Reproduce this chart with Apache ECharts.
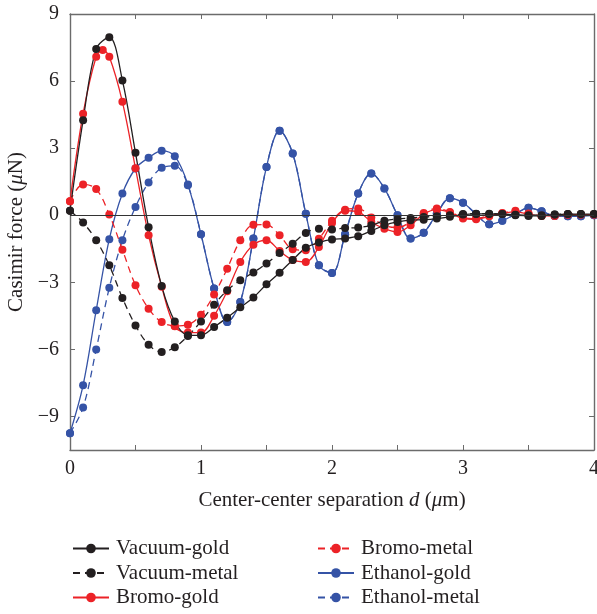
<!DOCTYPE html>
<html lang="en">

<head>
  <meta charset="UTF-8">
  <title>Casimir force</title>
  <style>
    html, body { margin: 0; padding: 0; background: #fff; }
    #myEcharts { width: 597px; height: 614px; }
  </style>
  <script src="https://cdn.jsdelivr.net/npm/echarts@6/dist/echarts.min.js"></script>
</head>

<body>
  <div id="myEcharts"></div>
  <script>
    // separation d (um)
    var sep = [0, 0.1, 0.2, 0.3, 0.4, 0.5, 0.6, 0.7, 0.8, 0.9, 1.0, 1.1, 1.2, 1.3, 1.4, 1.5, 1.6, 1.7, 1.8, 1.9,
      2.0, 2.1, 2.2, 2.3, 2.4, 2.5, 2.6, 2.7, 2.8, 2.9, 3.0, 3.1, 3.2, 3.3, 3.4, 3.5, 3.6, 3.7, 3.8, 3.9, 4.0];
    // bromo-gold has one extra point near the peak
    var sepBromoGold = [0, 0.1, 0.2, 0.25, 0.3, 0.4, 0.5, 0.6, 0.7, 0.8, 0.9, 1.0, 1.1, 1.2, 1.3, 1.4, 1.5, 1.6, 1.7, 1.8, 1.9,
      2.0, 2.1, 2.2, 2.3, 2.4, 2.5, 2.6, 2.7, 2.8, 2.9, 3.0, 3.1, 3.2, 3.3, 3.4, 3.5, 3.6, 3.7, 3.8, 3.9, 4.0];

    var vacuumGold = [0.2, 4.25, 7.43, 7.96, 6.03, 2.79, -0.54, -3.17, -4.75, -5.37, -5.37, -5.0, -4.58, -4.12, -3.68, -3.09,
      -2.57, -2.0, -1.46, -1.22, -1.08, -1.04, -0.94, -0.7, -0.45, -0.3, -0.22, -0.2, -0.15, -0.07, 0.03, 0.06, 0.06, 0.05,
      0.0, -0.03, -0.03, 0.03, 0.05, 0.05, 0.05];
    var vacuumMetal = [0.2, -0.33, -1.12, -2.24, -3.7, -4.93, -5.79, -6.12, -5.9, -5.4, -4.75, -4.0, -3.36, -2.91, -2.56, -2.16,
      -1.69, -1.27, -0.79, -0.6, -0.64, -0.57, -0.55, -0.45, -0.25, -0.17, -0.12, -0.08, -0.05, 0.0, 0.05, 0.07, 0.07, 0.05,
      0.02, 0.0, 0.0, 0.03, 0.05, 0.05, 0.05];
    var bromoGold = [0.63, 4.54, 7.09, 7.39, 7.09, 5.07, 2.1, -0.9, -3.2, -4.97, -5.25, -5.25, -4.5, -3.4, -2.09, -1.32, -1.12,
      -1.6, -2.0, -2.09, -1.42, -0.35, 0.2, 0.15, -0.3, -0.6, -0.75, -0.45, 0.05, 0.25, 0.12, -0.15, -0.18, -0.05, 0.08, 0.15,
      0.05, -0.03, -0.03, 0.02, 0.03, 0.03];
    var bromoMetal = [0.63, 1.38, 1.17, 0.03, -1.54, -3.13, -4.18, -4.78, -4.95, -4.9, -4.45, -3.55, -2.39, -1.12, -0.43, -0.42,
      -0.9, -1.52, -1.57, -1.05, -0.25, 0.25, 0.3, -0.1, -0.45, -0.55, -0.3, 0.1, 0.3, 0.15, -0.1, -0.15, -0.02, 0.1, 0.2, 0.08,
      -0.02, 0.0, 0.03, 0.03, 0.03];
    var ethanolGold = [-9.75, -7.6, -4.25, -1.07, 0.97, 2.09, 2.57, 2.88, 2.64, 1.37, -0.85, -3.28, -4.78, -3.88, -1.04, 2.16,
      3.78, 2.76, 0.07, -2.24, -2.58, -0.85, 0.97, 1.87, 1.2, 0.0, -1.04, -0.78, 0.07, 0.76, 0.56, 0.05, -0.4, -0.25, 0.05, 0.33,
      0.18, -0.03, -0.05, -0.04, 0.0];
    var ethanolMetal = [-9.75, -8.6, -6.0, -3.24, -1.12, 0.37, 1.46, 2.12, 2.21, 1.34, -0.85, -3.28, -4.78, -3.88, -1.04, 2.16,
      3.78, 2.76, 0.07, -2.24, -2.58, -0.85, 0.97, 1.87, 1.2, 0.0, -1.04, -0.78, 0.07, 0.76, 0.56, 0.05, -0.4, -0.25, 0.05, 0.33,
      0.18, -0.03, -0.05, -0.04, 0.0];

    var yTicks = [-9, -6, -3, 0, 3, 6, 9];

    var BLACK = '#231f20', RED = '#ec2227', BLUE = '#3553a6';
    var AXIS = '#6b6b6b';
    var FONT = 'Liberation Serif';

    function pairs(xs, ys) {
      return ys.map(function (v, i) { return [xs[i], v]; });
    }
    function mkSeries(name, xs, ys, color, dashed) {
      return {
        name: name,
        type: 'line',
        smooth: 0.35,
        symbol: 'circle',
        symbolSize: 8,
        itemStyle: { color: color },
        lineStyle: { color: color, width: 1.3, type: dashed ? [7, 5] : 'solid' },
        data: pairs(xs, ys)
      };
    }
    function minus(v) { return v < 0 ? '\u2212' + Math.abs(v) : String(v); }

    var myChart = echarts.init(document.getElementById('myEcharts'));
    var series = [
      mkSeries('Ethanol-metal', sep, ethanolMetal, BLUE, true),
      mkSeries('Ethanol-gold', sep, ethanolGold, BLUE, false),
      mkSeries('Bromo-metal', sep, bromoMetal, RED, true),
      mkSeries('Bromo-gold', sepBromoGold, bromoGold, RED, false),
      mkSeries('Vacuum-metal', sep, vacuumMetal, BLACK, true),
      mkSeries('Vacuum-gold', sep, vacuumGold, BLACK, false)
    ];
    // zero line
    series[0].markLine = {
      silent: true,
      symbol: 'none',
      label: { show: false },
      lineStyle: { color: '#333', width: 1.2, type: 'solid' },
      data: [{ yAxis: 0 }]
    };

    var legendBase = {
      orient: 'vertical',
      padding: 0,
      height: 90,
      itemWidth: 36,
      itemHeight: 12,
      itemGap: 3.5,
      textStyle: { fontFamily: FONT, fontSize: 21, color: BLACK, padding: [0, 0, 0, 2] }
    };

    var frameLine = { show: true, onZero: false, lineStyle: { color: AXIS, width: 1.4 } };
    var nameRich = {
      a: { fontFamily: FONT, fontSize: 21, color: BLACK },
      i: { fontFamily: FONT, fontSize: 21, color: BLACK, fontStyle: 'italic' }
    };

    var option = {
      animation: false,
      grid: { left: 70, right: 3, top: 14, bottom: 164, outerBoundsMode: 'none', containLabel: false },
      legend: [
        Object.assign({ left: 72, top: 538, data: ['Vacuum-gold', 'Vacuum-metal', 'Bromo-gold'] }, legendBase),
        Object.assign({ left: 317, top: 538, data: ['Bromo-metal', 'Ethanol-gold', 'Ethanol-metal'] }, legendBase)
      ],
      xAxis: [{
        type: 'value',
        min: 0, max: 4, interval: 0.5,
        name: '{a|Center-center separation }{i|d}{a| (}{i|\u03bc}{a|m)}',
        nameLocation: 'middle',
        nameGap: 40,
        nameTextStyle: { rich: nameRich },
        axisLine: frameLine,
        axisTick: { show: true, inside: true, length: 5, lineStyle: { color: AXIS } },
        axisLabel: {
          fontFamily: FONT, fontSize: 20, color: BLACK, margin: 9,
          formatter: function (v) { return Number.isInteger(v) ? String(v) : ''; }
        },
        splitLine: { show: false }
      }, {
        type: 'value', position: 'top',
        min: 0, max: 4, interval: 0.5,
        axisLine: frameLine,
        axisTick: { show: true, inside: true, length: 5, lineStyle: { color: AXIS } },
        axisLabel: { show: false },
        splitLine: { show: false }
      }],
      yAxis: [{
        type: 'value',
        min: -10.5, max: 9,
        name: '{a|Casimir force (}{i|\u03bc}{a|N)}',
        nameLocation: 'middle',
        nameGap: 42,
        nameTextStyle: { rich: nameRich },
        axisLine: frameLine,
        axisTick: { show: true, inside: true, length: 5, customValues: yTicks, lineStyle: { color: AXIS } },
        axisLabel: {
          fontFamily: FONT, fontSize: 20, color: BLACK, margin: 11,
          customValues: yTicks,
          formatter: function (v) { return minus(v); }
        },
        splitLine: { show: false }
      }, {
        type: 'value', position: 'right',
        min: -10.5, max: 9,
        axisLine: frameLine,
        axisTick: { show: true, inside: true, length: 5, customValues: yTicks, lineStyle: { color: AXIS } },
        axisLabel: { show: false },
        splitLine: { show: false }
      }],
      series: series
    };
    myChart.setOption(option);
  </script>
</body>

</html>
